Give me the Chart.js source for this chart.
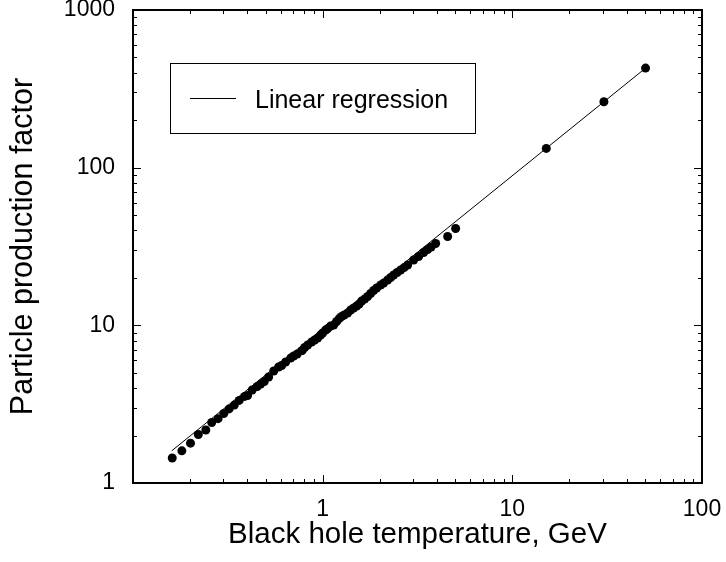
<!DOCTYPE html>
<html>
<head>
<meta charset="utf-8">
<script src="https://cdn.jsdelivr.net/npm/chart.js@4.4.1/dist/chart.umd.min.js"></script>
<style>
  body { margin: 0; background: #fff; }
</style>
</head>
<body>
<canvas id="bhChart" width="726" height="562"></canvas>
<script>
// measured points (temperature in GeV, production factor)
const temperature = [
  0.161, 0.181, 0.201, 0.221, 0.242, 0.260, 0.281, 0.301, 0.321, 0.342,
  0.363, 0.388, 0.402, 0.425, 0.452, 0.471, 0.492, 0.519, 0.552, 0.586,
  0.608, 0.638, 0.678, 0.703, 0.734, 0.780, 0.804, 0.834, 0.875, 0.907,
  0.941, 0.976, 1.000, 1.037, 1.063, 1.102, 1.143, 1.185, 1.222, 1.259,
  1.298, 1.354, 1.405, 1.457, 1.511, 1.557, 1.606, 1.665, 1.727, 1.791,
  1.857, 1.926, 2.022, 2.097, 2.201, 2.283, 2.367, 2.470, 2.577, 2.689,
  2.806, 3.018, 3.207, 3.407, 3.577, 3.733, 3.942, 4.560, 5.024, 15.1,
  30.4, 50.4
];
const factor = [
  1.44, 1.60, 1.79, 2.03, 2.17, 2.42, 2.56, 2.76, 2.95, 3.12,
  3.34, 3.54, 3.59, 3.89, 4.09, 4.24, 4.40, 4.70, 5.13, 5.44,
  5.56, 5.85, 6.20, 6.39, 6.58, 6.92, 7.23, 7.50, 7.84, 8.07,
  8.31, 8.68, 8.94, 9.34, 9.54, 9.90, 10.04, 10.57, 11.04, 11.37,
  11.62, 11.97, 12.50, 12.87, 13.26, 13.65, 14.26, 14.69, 15.23, 15.91,
  16.62, 17.24, 18.01, 18.54, 19.38, 20.10, 20.84, 21.62, 22.42, 23.25,
  24.12, 25.95, 27.31, 28.95, 30.25, 31.37, 33.02, 36.57, 41.10, 132.5,
  262, 428
];

// regression line end points
const fitT = [0.16, 50.4];
const fitFactor = [1.6, 428];

const xRange = [0.1, 100];
const yRange = [1, 1000];
const xTickValues = [1, 10, 100];
const yTickValues = [1, 10, 100, 1000];

const fontName = "'Liberation Sans', Arial, sans-serif";

function decadeMarks(range) {
  const marks = [];
  for (let d = range[0]; d < range[1] * 0.999; d *= 10) {
    for (let k = 1; k < 10; k++) marks.push([d * k, k === 1]);
  }
  marks.push([range[1], true]);
  return marks;
}

// box around the plot with inward ticks on all four sides
const frameTicks = {
  id: 'frameTicks',
  afterDatasetsDraw(chart) {
    const { ctx, chartArea: a, scales: { x, y } } = chart;
    ctx.save();
    ctx.strokeStyle = '#000';
    ctx.lineWidth = 1;
    ctx.beginPath();
    decadeMarks(xRange).forEach(([v, major]) => {
      const px = Math.round(x.getPixelForValue(v)) + 0.5;
      const len = major ? 8 : 4;
      ctx.moveTo(px, a.bottom); ctx.lineTo(px, a.bottom - len);
      ctx.moveTo(px, a.top); ctx.lineTo(px, a.top + len);
    });
    decadeMarks(yRange).forEach(([v, major]) => {
      const py = Math.round(y.getPixelForValue(v)) + 0.5;
      const len = major ? 8 : 4;
      ctx.moveTo(a.left, py); ctx.lineTo(a.left + len, py);
      ctx.moveTo(a.right, py); ctx.lineTo(a.right - len, py);
    });
    ctx.stroke();
    ctx.lineWidth = 2;
    ctx.strokeRect(a.left, a.top, a.right - a.left, a.bottom - a.top);
    ctx.restore();
  }
};

// boxed legend inside the plot, for the regression line only
const boxLegend = {
  id: 'boxLegend',
  afterDraw(chart) {
    const { ctx } = chart;
    const ds = chart.data.datasets[0];
    ctx.save();
    ctx.fillStyle = '#fff';
    ctx.fillRect(170.5, 63.5, 305, 70);
    ctx.strokeStyle = '#000';
    ctx.lineWidth = 1;
    ctx.strokeRect(170.5, 63.5, 305, 70);
    ctx.strokeStyle = ds.borderColor;
    ctx.lineWidth = ds.borderWidth;
    ctx.beginPath();
    ctx.moveTo(190, 98.5);
    ctx.lineTo(236, 98.5);
    ctx.stroke();
    ctx.fillStyle = '#000';
    ctx.font = '25px ' + fontName;
    ctx.textBaseline = 'alphabetic';
    ctx.fillText(ds.label, 255, 108);
    ctx.restore();
  }
};

new Chart(document.getElementById('bhChart'), {
  type: 'scatter',
  data: {
    datasets: [
      {
        label: 'Linear regression',
        data: fitT.map((t, i) => ({ x: t, y: fitFactor[i] })),
        showLine: true,
        borderColor: '#000',
        borderWidth: 1,
        pointRadius: 0,
        fill: false
      },
      {
        label: 'Data',
        data: temperature.map((t, i) => ({ x: t, y: factor[i] })),
        backgroundColor: '#000',
        borderColor: '#000',
        borderWidth: 0,
        pointRadius: 4.5
      }
    ]
  },
  options: {
    responsive: false,
    animation: false,
    layout: { padding: { top: 10, right: 24, left: 0, bottom: 0 } },
    plugins: {
      legend: { display: false },
      tooltip: { enabled: false }
    },
    scales: {
      x: {
        type: 'logarithmic',
        position: 'bottom',
        min: xRange[0],
        max: xRange[1],
        grid: { display: false, drawTicks: false },
        border: { display: false },
        ticks: {
          color: '#000',
          font: { family: fontName, size: 23 },
          padding: 13,
          autoSkip: false,
          maxRotation: 0,
          callback: v => String(v)
        },
        afterBuildTicks: s => { s.ticks = xTickValues.map(v => ({ value: v })); },
        afterFit: s => { s.height = 79; s.paddingLeft = 0; s.paddingRight = 0; },
        title: {
          display: true,
          text: 'Black hole temperature, GeV',
          color: '#000',
          font: { family: fontName, size: 29.5 },
          padding: { top: 0, bottom: 9 }
        }
      },
      y: {
        type: 'logarithmic',
        min: yRange[0],
        max: yRange[1],
        grid: { display: false, drawTicks: false },
        border: { display: false },
        ticks: {
          color: '#000',
          font: { family: fontName, size: 23 },
          padding: 18,
          autoSkip: false,
          callback: v => String(v)
        },
        afterBuildTicks: s => { s.ticks = yTickValues.map(v => ({ value: v })); },
        afterFit: s => { s.width = 133; s.paddingTop = 0; s.paddingBottom = 0; },
        title: {
          display: true,
          text: 'Particle production factor',
          color: '#000',
          font: { family: fontName, size: 30.5 },
          padding: { top: 5, bottom: 0 }
        }
      }
    }
  },
  plugins: [frameTicks, boxLegend]
});
</script>
</body>
</html>
